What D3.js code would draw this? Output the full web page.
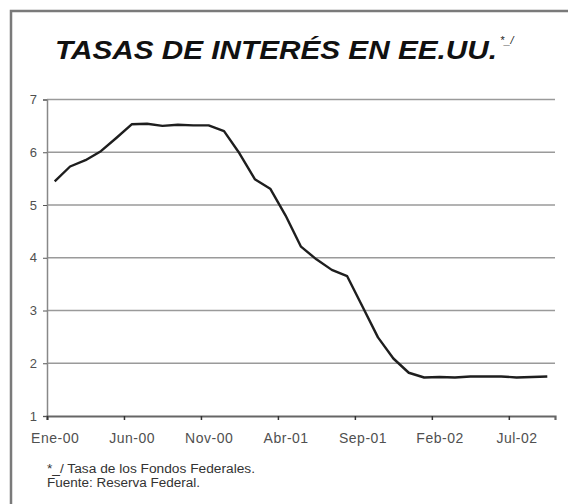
<!DOCTYPE html>
<html>
<head>
<meta charset="utf-8">
<script src="https://cdn.jsdelivr.net/npm/d3@7/dist/d3.min.js"></script>
<style>
  html, body { margin: 0; padding: 0; background: #fff; }
  svg { display: block; font-family: "Liberation Sans", Arial, sans-serif; }
</style>
</head>
<body>
<script>
// monthly categories, Ene-00 .. Sep-02
var months = ["Ene-00","Feb-00","Mar-00","Abr-00","May-00","Jun-00","Jul-00","Ago-00","Sep-00","Oct-00","Nov-00","Dic-00",
              "Ene-01","Feb-01","Mar-01","Abr-01","May-01","Jun-01","Jul-01","Ago-01","Sep-01","Oct-01","Nov-01","Dic-01",
              "Ene-02","Feb-02","Mar-02","Abr-02","May-02","Jun-02","Jul-02","Ago-02","Sep-02"];
var rates = [5.45, 5.73, 5.85, 6.02, 6.27, 6.53, 6.54, 6.50, 6.52, 6.51, 6.51, 6.40,
             5.98, 5.49, 5.31, 4.80, 4.21, 3.97, 3.77, 3.65, 3.07, 2.49, 2.09, 1.82,
             1.73, 1.74, 1.73, 1.75, 1.75, 1.75, 1.73, 1.74, 1.75];
var yTicks = [1, 2, 3, 4, 5, 6, 7];
var labelEvery = 5;

var w = 568, h = 504;
var margin = {left: 47, right: 13, top: 99.5, bottom: 88};

var svg = d3.select('body').append('svg')
  .attr('width', w)
  .attr('height', h);

// outer frame (runs off the right and bottom edges)
svg.append('rect')
  .attr('x', 11).attr('y', 11)
  .attr('width', w + 20).attr('height', h + 20)
  .attr('fill', 'none')
  .attr('stroke', '#7a7a7a')
  .attr('stroke-width', 2.5);

svg.append('text')
  .attr('x', 55).attr('y', 59)
  .attr('textLength', 442)
  .attr('lengthAdjust', 'spacingAndGlyphs')
  .style('font-size', '25px')
  .style('font-weight', 'bold')
  .style('font-style', 'italic')
  .attr('fill', '#111')
  .text('TASAS DE INTERÉS EN EE.UU.');
svg.append('text')
  .attr('x', 500).attr('y', 44)
  .style('font-size', '11px')
  .style('font-style', 'italic')
  .attr('fill', '#222')
  .text('*_/');

// x: category index scale (band edges at integers)
var x = d3.scaleLinear()
  .domain([0, months.length])
  .range([margin.left, w - margin.right]);

var y = d3.scaleLinear()
  .domain([1, 7])
  .range([h - margin.bottom, margin.top]);

// gridlines
svg.append('g')
  .selectAll('line')
  .data(yTicks.filter(d => d > 1))
  .enter().append('line')
    .attr('x1', x(0)).attr('x2', x(months.length))
    .attr('y1', d => y(d)).attr('y2', d => y(d))
    .attr('stroke', '#9a9a9a')
    .attr('stroke-width', 1.5);

// y axis
var yAxis = d3.axisLeft(y)
  .tickValues(yTicks)
  .tickSize(4)
  .tickPadding(6)
  .tickFormat(d3.format('d'));
var gy = svg.append('g')
  .attr('transform', `translate(${x(0)},0)`)
  .call(yAxis);
gy.select('.domain').attr('stroke', '#888').attr('stroke-width', 1.5);
gy.selectAll('.tick line').attr('stroke', '#555');
gy.selectAll('.tick text')
  .style('font-size', '13px')
  .style('font-family', '"Liberation Sans", Arial, sans-serif')
  .attr('fill', '#505050');

// x axis: tick marks at category boundaries, labels at category centres
var tickIdx = d3.range(0, months.length, labelEvery);
var xTicks = d3.axisBottom(x)
  .tickValues(tickIdx)
  .tickSize(4)
  .tickFormat('');
var gx = svg.append('g')
  .attr('transform', `translate(0,${y(1)})`)
  .call(xTicks);
gx.select('.domain').attr('stroke', '#666').attr('stroke-width', 2.2);
gx.selectAll('.tick line').attr('stroke', '#333').attr('stroke-width', 1.5);

var xLabels = d3.axisBottom(x)
  .tickValues(tickIdx.map(i => i + 0.5))
  .tickSize(0)
  .tickPadding(17)
  .tickFormat(d => months[Math.floor(d)]);
var gl = svg.append('g')
  .attr('transform', `translate(0,${y(1)})`)
  .call(xLabels);
gl.select('.domain').remove();
gl.selectAll('.tick text')
  .style('font-size', '14px')
  .style('letter-spacing', '0.5px')
  .style('font-family', '"Liberation Sans", Arial, sans-serif')
  .attr('fill', '#505050');

// the rate line
var line = d3.line()
  .x((d, i) => x(i + 0.5))
  .y(d => y(d));
svg.append('path')
  .datum(rates)
  .attr('d', line)
  .attr('fill', 'none')
  .attr('stroke', '#1e1e1e')
  .attr('stroke-width', 2.4)
  .attr('stroke-linejoin', 'round');

// footnotes
svg.append('text')
  .attr('x', 47).attr('y', 473)
  .attr('textLength', 208)
  .attr('lengthAdjust', 'spacingAndGlyphs')
  .style('font-size', '12px')
  .attr('fill', '#333')
  .text('*_/ Tasa de los Fondos Federales.');
svg.append('text')
  .attr('x', 47).attr('y', 487)
  .attr('textLength', 153)
  .attr('lengthAdjust', 'spacingAndGlyphs')
  .style('font-size', '12px')
  .attr('fill', '#333')
  .text('Fuente: Reserva Federal.');
</script>
</body>
</html>
